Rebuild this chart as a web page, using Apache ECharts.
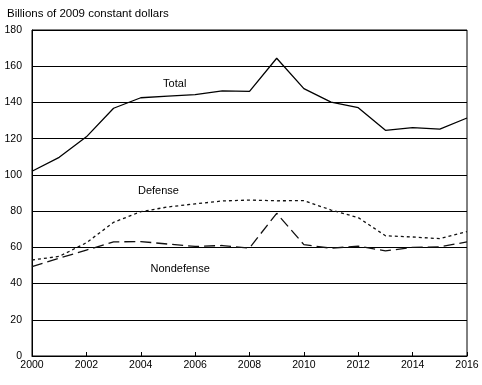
<!DOCTYPE html>
<html>
<head>
<meta charset="utf-8">
<script src="https://cdn.jsdelivr.net/npm/echarts@6/dist/echarts.min.js"></script>
<style>html,body{margin:0;padding:0;background:#fff}#c{width:482px;height:385px}</style>
</head>
<body>
<div id="c"></div>
<script>
const years = [2000,2001,2002,2003,2004,2005,2006,2007,2008,2009,2010,2011,2012,2013,2014,2015,2016];
const total = [102,109.7,121,136.8,142.6,143.5,144.3,146.4,146.1,164.4,147.6,140.2,137.1,124.6,126.1,125.3,131.4];
const defense = [53,55,62.5,73.8,79.7,82.3,84,85.6,86.1,85.7,85.8,80.6,76.4,66.4,65.7,64.8,68.7];
const nondefense = [49.3,54,58.5,63,63.2,61.8,60.5,61,59.6,78.8,61.5,59.5,60.7,58,60,60.3,63];
const yTicks = [0,20,40,60,80,100,120,140,160,180];
const xTicks = [2000,2002,2004,2006,2008,2010,2012,2014,2016];
const titleText = 'Billions of 2009 constant dollars';
const seriesLabels = [
  {name:'Total', at:[2005.25,150.2]},
  {name:'Defense', at:[2004.65,91.1]},
  {name:'Nondefense', at:[2005.45,48]}
];

const font = 'Liberation Sans, Arial, sans-serif';
function pairs(vals){ return years.map((y,i)=>[y, vals[i]]); }
function labelPoint(l){
  return {
    symbol:'rect', symbolSize:1, silent:true,
    itemStyle:{color:'rgba(0,0,0,0)'},
    label:{show:true, position:'inside', formatter:l.name, color:'#000', fontSize:11, fontFamily:font},
    data:[{coord:l.at, value:l.name}]
  };
}
const chart = echarts.init(document.getElementById('c'), null, {renderer:'canvas'});
chart.setOption({
  animation:false,
  backgroundColor:'#fff',
  title:{text:titleText, left:2, top:3, textStyle:{fontSize:11.5, fontWeight:'normal', color:'#000', fontFamily:font}},
  grid:{left:32, right:15, top:30, bottom:29, show:true, borderColor:'#000', borderWidth:1, containLabel:false},
  xAxis:{type:'value', min:xTicks[0], max:xTicks[xTicks.length-1], interval:2,
    axisLine:{lineStyle:{color:'#000', width:1}},
    axisTick:{inside:true, length:4, lineStyle:{color:'#000'}},
    axisLabel:{color:'#000', fontSize:10.5, fontFamily:font, margin:4, formatter:v=>String(v)},
    splitLine:{show:false}},
  yAxis:{type:'value', min:yTicks[0], max:yTicks[yTicks.length-1], interval:20,
    axisLine:{show:true, lineStyle:{color:'#000', width:1}},
    axisTick:{show:false},
    axisLabel:{color:'#000', fontSize:10.5, fontFamily:font, margin:10},
    splitLine:{show:true, lineStyle:{color:'#000', width:1}}},
  series:[
    {name:'Total', type:'line', data:pairs(total), symbol:'none', lineStyle:{color:'#000', width:1.3}, markPoint:labelPoint(seriesLabels[0])},
    {name:'Defense', type:'line', data:pairs(defense), symbol:'none', lineStyle:{color:'#111', width:1.3, type:[3,3]}, markPoint:labelPoint(seriesLabels[1])},
    {name:'Nondefense', type:'line', data:pairs(nondefense), symbol:'none', lineStyle:{color:'#111', width:1.3, type:[11,5]}, markPoint:labelPoint(seriesLabels[2])}
  ]
});
</script>
</body>
</html>
